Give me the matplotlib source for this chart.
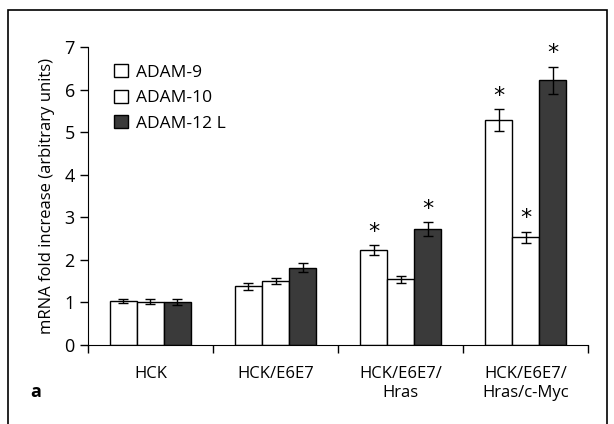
import numpy as np
import matplotlib.pyplot as plt
from matplotlib.patches import Rectangle, Patch

# datos
grupos = ["HCK", "HCK/E6E7", "HCK/E6E7/\nHras", "HCK/E6E7/\nHras/c-Myc"]
series = ["ADAM-9", "ADAM-10", "ADAM-12 L"]
adam9 = [1.03, 1.38, 2.23, 5.28]
adam10 = [1.02, 1.50, 1.54, 2.53]
adam12 = [1.00, 1.82, 2.73, 6.22]
err9 = [0.04, 0.08, 0.12, 0.26]
err10 = [0.05, 0.07, 0.08, 0.13]
err12 = [0.07, 0.10, 0.16, 0.32]
sig9 = [False, False, True, True]
sig10 = [False, False, False, True]
sig12 = [False, False, True, True]

plt.rcParams['font.family'] = ['Open Sans', 'DejaVu Sans']

fig = plt.figure(figsize=(6.14, 4.24), dpi=100)
ax = fig.add_axes([0.1433, 0.1863, 0.8144, 0.7027])

x = np.arange(len(grupos))
w = 0.216
colores = ["white", "white", "#3a3a3a"]
for k, (vals, errs, sig) in enumerate([(adam9, err9, sig9), (adam10, err10, sig10), (adam12, err12, sig12)]):
    pos = x + (k - 1) * w
    ax.bar(pos, vals, w, color=colores[k], edgecolor="black", linewidth=1.0, label=series[k], zorder=2)
    ax.errorbar(pos, vals, yerr=errs, fmt="none", ecolor="black", elinewidth=1.0, capsize=3.5, capthick=1.0, zorder=3)
    for p, v, e, s in zip(pos, vals, errs, sig):
        if s:
            ax.text(p, v + e + 0.08, "*", ha="center", va="bottom", fontsize=16, family="DejaVu Sans")

ax.set_xlim(-0.5, 3.5)
ax.set_ylim(0, 7)
ax.set_yticks(range(8))
ax.set_xticks(np.arange(-0.5, 4, 1))
ax.set_xticklabels([])
ax.set_xticks(x, minor=True)
ax.set_xticklabels(grupos, minor=True, fontsize=12, linespacing=1.3)
ax.tick_params(axis="x", which="minor", length=0, pad=15)
ax.tick_params(axis="x", which="major", length=6, width=1, direction="out")
ax.tick_params(axis="y", length=6, width=1, direction="out", labelsize=13)
ax.spines["top"].set_visible(False)
ax.spines["right"].set_visible(False)
ax.set_ylabel("mRNA fold increase (arbitrary units)", fontsize=12, labelpad=7)

handles = [Patch(facecolor=c, edgecolor="black", linewidth=1.0) for c in colores]
ax.legend(handles, series, loc="upper left", bbox_to_anchor=(0.02, 0.995), frameon=False,
          fontsize=12.5, handlelength=0.8, handleheight=0.8, handletextpad=0.5, labelspacing=0.5)

fig.text(30 / 614, 1 - 392 / 424, "a", fontsize=13, fontweight="bold", va="center")
fig.patches.append(Rectangle((8 / 614, -0.05), 599 / 614, 1.05 - 10 / 424, transform=fig.transFigure,
                             fill=False, edgecolor="black", linewidth=1.2, clip_on=False))

fig.savefig("out.png", dpi=100)
